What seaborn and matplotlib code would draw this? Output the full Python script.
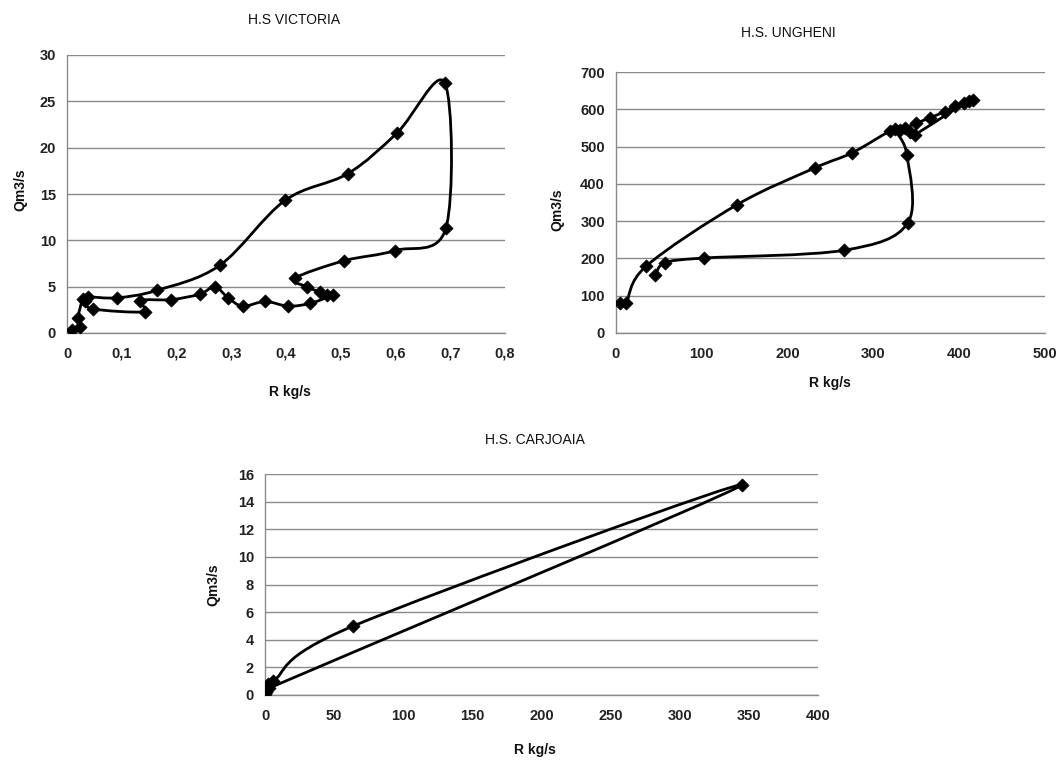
import numpy as np
import matplotlib
matplotlib.use("Agg")
import matplotlib.pyplot as plt
from matplotlib.path import Path
from matplotlib.patches import PathPatch
from matplotlib.ticker import FuncFormatter
import seaborn as sns

# H.S VICTORIA: R (kg/s) vs Q (m3/s), in the order of the loop
vic_r = [0.009, 0.024, 0.020, 0.029, 0.038, 0.091, 0.164, 0.279, 0.398, 0.513,
         0.603, 0.690, 0.692, 0.599, 0.506, 0.416, 0.438, 0.462, 0.475, 0.486,
         0.444, 0.404, 0.362, 0.321, 0.294, 0.270, 0.243, 0.190, 0.133, 0.142,
         0.047, 0.033]
vic_q = [0.3, 0.7, 1.6, 3.7, 3.9, 3.8, 4.6, 7.3, 14.3, 17.2,
         21.6, 27.0, 11.3, 8.9, 7.8, 5.9, 5.0, 4.4, 4.1, 4.1,
         3.2, 2.9, 3.4, 2.9, 3.8, 5.0, 4.2, 3.6, 3.5, 2.3,
         2.6, 3.5]

# H.S. UNGHENI
ung_r = [4.7, 11.7, 35, 141, 232, 275, 319, 331, 350, 366, 383, 395, 411, 416,
         406, 348, 343, 337, 325, 339, 340, 266, 102, 57, 46]
ung_q = [80, 80, 179, 344, 443, 483, 541, 545, 563, 577, 594, 608, 621, 626,
         616, 532, 540, 550, 548, 478, 295, 222, 201, 188, 155]

# H.S. CARJOAIA
car_r = [0, 1, 2.5, 6, 64, 345, 3, 0.5]
car_q = [0.1, 0.4, 0.8, 1.0, 5.0, 15.2, 0.5, 0.2]

sns.set_theme(style="white")
plt.rcParams['font.family'] = ['Liberation Sans Narrow', 'Liberation Sans', 'DejaVu Sans']

fig = plt.figure(figsize=(10.6, 7.65), dpi=100)
W, H = 1060, 765


def add_ax(left, top, right, bottom):
    return fig.add_axes([left / W, 1 - bottom / H, (right - left) / W, (bottom - top) / H])


def smooth_line(ax, xs, ys):
    # Excel-like smoothed line (Catmull-Rom as cubic Bezier)
    p = np.column_stack([xs, ys]).astype(float)
    n = len(p)
    verts = [p[0]]
    codes = [Path.MOVETO]
    for i in range(n - 1):
        p0 = p[i - 1] if i > 0 else p[i]
        p3 = p[i + 2] if i + 2 < n else p[i + 1]
        c1 = p[i] + (p[i + 1] - p0) / 6
        c2 = p[i + 1] - (p3 - p[i]) / 6
        verts += [c1, c2, p[i + 1]]
        codes += [Path.CURVE4] * 3
    ax.add_patch(PathPatch(Path(verts, codes), fill=False, edgecolor='black',
                           lw=2.0, zorder=3))


def style(ax, xmax, xstep, ymax, ystep, comma=False):
    ax.set_xlim(0, xmax)
    ax.set_ylim(0, ymax)
    ax.set_xticks(np.arange(0, xmax + xstep / 2, xstep))
    ax.set_yticks(np.arange(0, ymax + ystep / 2, ystep))
    ax.yaxis.grid(True, color='#8a8a8a', lw=1.0)
    ax.xaxis.grid(False)
    for s in ['top', 'right']:
        ax.spines[s].set_visible(False)
    for s in ['left', 'bottom']:
        ax.spines[s].set_color('#8a8a8a')
        ax.spines[s].set_linewidth(1.0)
    ax.tick_params(axis='x', length=4, color='#8a8a8a', labelsize=10.5, pad=6, direction='out')
    ax.tick_params(axis='y', length=0, labelsize=10.5, pad=8)
    ax.set_xlabel('')
    ax.set_ylabel('')
    if comma:
        ax.xaxis.set_major_formatter(FuncFormatter(lambda v, _: ('%g' % round(v, 2)).replace('.', ',')))
    for lab in ax.get_xticklabels() + ax.get_yticklabels():
        lab.set_fontweight('bold')
        lab.set_color('#222222')


def draw(ax, xs, ys):
    smooth_line(ax, xs, ys)
    sns.scatterplot(x=xs, y=ys, ax=ax, marker='D', color='black', s=45,
                    edgecolor='black', linewidth=0.5, zorder=4, legend=False)


ax1 = add_ax(67, 55, 505, 333)
draw(ax1, vic_r, vic_q)
style(ax1, 0.8, 0.1, 30, 5, comma=True)

ax2 = add_ax(616, 72, 1045, 333)
draw(ax2, ung_r, ung_q)
style(ax2, 500, 100, 700, 100)

ax3 = add_ax(265, 474, 818, 695)
draw(ax3, car_r, car_q)
style(ax3, 400, 50, 16, 2)

title_kw = dict(ha='center', va='center', fontsize=10, color='#111111')
fig.text(294 / W, 1 - 20 / H, 'H.S VICTORIA', **title_kw)
fig.text(788 / W, 1 - 33 / H, 'H.S. UNGHENI', **title_kw)
fig.text(535 / W, 1 - 440 / H, 'H.S. CARJOAIA', **title_kw)

lab_kw = dict(ha='center', va='center', fontsize=10, fontweight='bold', color='#111111')
fig.text(20 / W, 1 - 190 / H, 'Qm3/s', rotation=90, **lab_kw)
fig.text(290 / W, 1 - 392 / H, 'R kg/s', **lab_kw)
fig.text(557 / W, 1 - 210 / H, 'Qm3/s', rotation=90, **lab_kw)
fig.text(830 / W, 1 - 383 / H, 'R kg/s', **lab_kw)
fig.text(213 / W, 1 - 585 / H, 'Qm3/s', rotation=90, **lab_kw)
fig.text(535 / W, 1 - 750 / H, 'R kg/s', **lab_kw)

fig.savefig('out.png', dpi=100, facecolor='white')
